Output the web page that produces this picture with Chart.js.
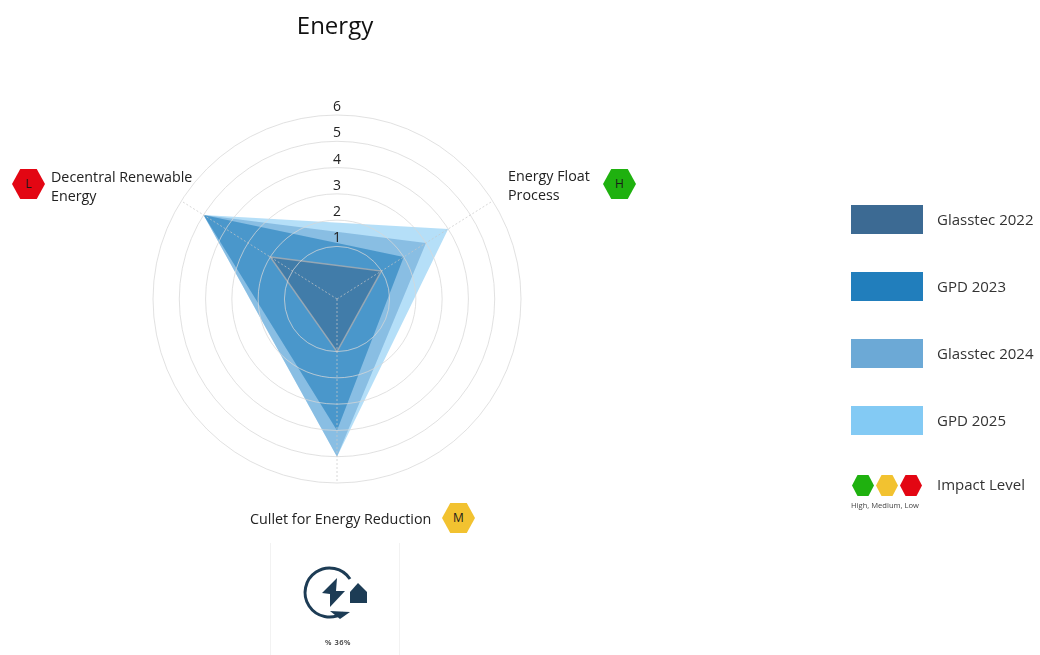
<!DOCTYPE html>
<html>
<head>
<meta charset="utf-8">
<title>Energy</title>
<script src="https://cdn.jsdelivr.net/npm/chart.js@4"></script>
<style>
  html, body { margin: 0; background: #fff; }
  body { width: 1040px; height: 655px; position: relative; overflow: hidden;
         font-family: "Open Sans", sans-serif; color: #222; }
  canvas { position: absolute; left: 0; top: 0; }
  .abs { position: absolute; white-space: nowrap; }
  #title { left: 235px; width: 200px; top: 9px; text-align: center; font-size: 24px; line-height: 32px; color: #111; }
  .axis { font-size: 14.3px; line-height: 19px; color: #222; }
  .hex { width: 33px; height: 30px; text-align: center; font-size: 12px; line-height: 30px; color: #1a1a1a;
         clip-path: polygon(0 50%, 25% 0, 75% 0, 100% 50%, 75% 100%, 25% 100%); }
  .swatch { left: 851px; width: 72px; height: 29px; }
  .legend-text { left: 937px; font-size: 15px; line-height: 20px; color: #333; }
  .dot { width: 22px; height: 21px; clip-path: polygon(0 50%, 25% 0, 75% 0, 100% 50%, 75% 100%, 25% 100%); }
  #panel { left: 270px; top: 543px; width: 130px; height: 112px; box-sizing: border-box;
           border-left: 1px solid #f2f2f2; border-right: 1px solid #f2f2f2; }
</style>
</head>
<body>
<canvas id="radar" width="1040" height="655"></canvas>
<div id="title" class="abs">Energy</div>
<div id="overlay"></div>

<div id="panel" class="abs"></div>
<svg class="abs" style="left:300px;top:560px" width="76" height="66" viewBox="0 0 76 66">
  <path d="M43 53 A24.5 24.5 0 1 1 50 19" fill="none" stroke="#1d3c55" stroke-width="3"/>
  <path d="M37 18 L22 33 L30 34 L30 47 L45 31 L36 31 Z" fill="#1d3c55"/>
  <path d="M50 32 L58 23 L67 32 L67 43 L50 43 Z" fill="#1d3c55"/>
  <path d="M30 51 L50 52 L40 59 Z" fill="#1d3c55"/>
</svg>
<div class="abs" style="left:288px;width:100px;top:636px;text-align:center;font-size:7.5px;line-height:12px;letter-spacing:.5px;font-weight:600;color:#333">% 36%</div>

<script>
const categories = ["Energy Float Process", "Cullet for Energy Reduction", "Decentral Renewable Energy"];
const seriesNames = ["Glasstec 2022", "GPD 2023", "Glasstec 2024", "GPD 2025"];
const glasstec2022 = [1, 1, 2];
const gpd2023 = [2, 4, 5];
const glasstec2024 = [3, 5, 5];
const gpd2025 = [4, 5, 5];
const tickLabels = [1, 2, 3, 4, 5, 6];
const impactLevels = ["H", "M", "L"];
const axisAngles = [57.8, 180, 302.2]; // clockwise from the top, not evenly spread

const colors = ["#3c6a93", "#217ebc", "#6ca9d6", "#83caf4"];
const fills = ["rgba(60,106,147,.6)", "rgba(33,126,188,.6)", "rgba(108,169,214,.6)", "rgba(131,202,244,.6)"];
const impactColors = { H: "#1fb10f", M: "#f2c230", L: "#e30613" };

// radial scale whose spokes sit at the angles listed above
class SpreadRadialScale extends Chart.RadialLinearScale {
  getIndexAngle(index){
    return axisAngles[index] * Math.PI / 180;
  }
}
SpreadRadialScale.id = "spreadRadial";
Chart.register(SpreadRadialScale);

const overlay = document.getElementById("overlay");

function addDiv(cls, left, top, html, style){
  const d = document.createElement("div");
  d.className = "abs " + cls;
  d.style.left = left + "px";
  d.style.top = top + "px";
  if(style) d.style.cssText += style;
  d.innerHTML = html;
  overlay.appendChild(d);
  return d;
}

// axis captions and their impact hexagons
addDiv("axis", 508, 166, "Energy Float<br>Process");
addDiv("hex", 603, 169, impactLevels[0], "background:" + impactColors.H);
addDiv("axis", 250, 509, categories[1]);
addDiv("hex", 442, 503, impactLevels[1], "background:" + impactColors.M);
addDiv("axis", 51, 167, "Decentral Renewable<br>Energy");
addDiv("hex", 12, 169, impactLevels[2], "background:" + impactColors.L);

// side legend
const legendTop = [205, 272, 339, 406];
seriesNames.forEach((name,i)=>{
  addDiv("swatch", 851, legendTop[i], "", "background:" + colors[i]);
  addDiv("legend-text", 937, legendTop[i] + 4, name);
});
["H","M","L"].forEach((k,i)=>{
  addDiv("dot", 852 + i * 24, 475, "", "background:" + impactColors[k]);
});
addDiv("legend-text", 937, 474, "Impact Level");
addDiv("", 851, 500, "High, Medium, Low", "font-size:7.6px;line-height:10px;color:#444");

// tick numbers sit just above each ring
const tickNumbers = {
  id: "tickNumbers",
  afterDraw(chart){
    const scale = chart.scales.r;
    const ctx = chart.ctx;
    ctx.save();
    ctx.font = '14px "Open Sans"';
    ctx.fillStyle = "#222";
    ctx.textAlign = "center";
    ctx.textBaseline = "middle";
    tickLabels.forEach(v=>{
      const y = scale.yCenter - scale.getDistanceFromCenterForValue(v);
      ctx.fillText(String(v), scale.xCenter, y - 8);
    });
    ctx.restore();
  }
};

new Chart(document.getElementById("radar"),{
  type:"radar",
  data:{
    labels:categories,
    datasets:[glasstec2022, gpd2023, glasstec2024, gpd2025].map((values,i)=>({
      label:seriesNames[i],
      data:values,
      backgroundColor:fills[i],
      borderColor:"rgba(170,175,180,.8)",
      borderWidth:i === 0 ? 1.5 : 0,
      pointRadius:0,
      fill:"start"
    }))
  },
  options:{
    responsive:false,
    animation:false,
    layout:{padding:{left:153,top:115,right:518,bottom:171}},
    plugins:{legend:{display:false},tooltip:{enabled:false}},
    scales:{
      r:{
        type:"spreadRadial",
        min:-1,
        max:6,
        ticks:{display:false,stepSize:1},
        pointLabels:{display:false},
        angleLines:{color:"rgba(200,200,200,.7)",borderDash:[2,2],lineWidth:1},
        grid:{
          z:1,
          circular:true,
          lineWidth:1,
          // no ring for the inner offset values
          color:c=>c.tick && c.tick.value >= 1 ? "rgba(215,215,215,.75)" : "rgba(0,0,0,0)"
        }
      }
    }
  },
  plugins:[tickNumbers]
});
</script>
</body>
</html>
